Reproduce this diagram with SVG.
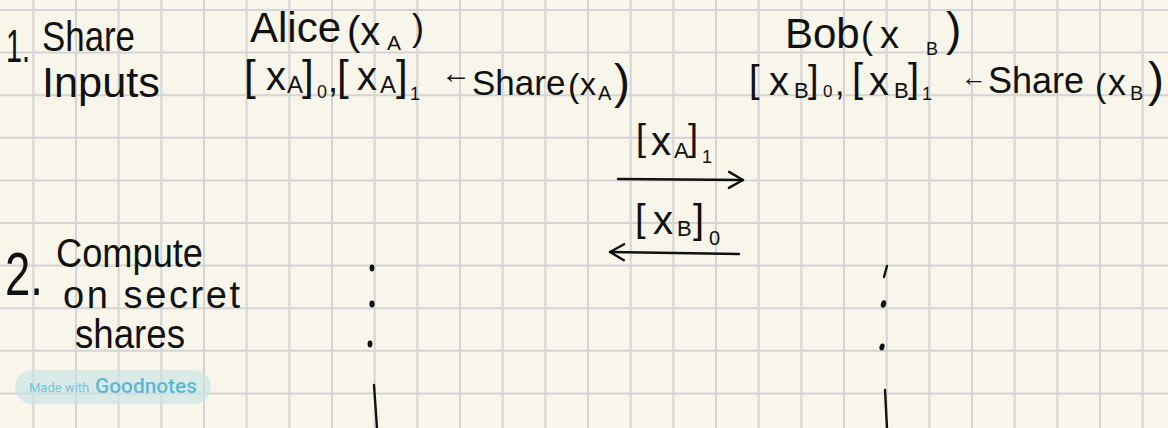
<svg xmlns="http://www.w3.org/2000/svg" width="1168" height="428" viewBox="0 0 1168 428">
  <defs>
    <style>
      .hw { font-family: "Liberation Sans", Arial, sans-serif; fill: #111; }
      .grid { stroke: #d4d4d6; stroke-width: 2; fill: none; }
      .ink { stroke: #111; stroke-width: 2.4; fill: none; stroke-linecap: round; stroke-linejoin: round; }
      .dot { fill: #111; }
      .badge-small { font-family: Roboto, "Liberation Sans", sans-serif; fill: #74c4de; font-size: 13px; }
      .badge-big { font-family: Roboto, "Liberation Sans", sans-serif; fill: #5cb9d6; font-size: 19.5px; font-weight: 500; }
    </style>
    <marker id="chev" markerUnits="userSpaceOnUse" markerWidth="20" markerHeight="24" refX="16" refY="12" orient="auto">
      <path d="M2,4 L16,12 L2,20" fill="none" stroke="#111" stroke-width="2.4" stroke-linecap="round" stroke-linejoin="round"/>
    </marker>
  </defs>

  <!-- paper -->
  <rect x="0" y="0" width="1168" height="428" fill="#f8f6ea"/>
  <g id="grid" class="grid">
    <path d="M33.3 0V428M76 0V428M118.6 0V428M161.3 0V428M204 0V428M246.6 0V428M289.3 0V428M332 0V428M374.7 0V428M417.3 0V428M460 0V428M502.7 0V428M545.3 0V428M588 0V428M630.7 0V428M673.3 0V428M716 0V428M758.7 0V428M801.3 0V428M844 0V428M886.7 0V428M929.3 0V428M972 0V428M1014.7 0V428M1057.3 0V428M1100 0V428M1142.7 0V428"/>
    <path d="M0 10H1168M0 52.6H1168M0 95.2H1168M0 137.8H1168M0 180.4H1168M0 223H1168M0 265.6H1168M0 308.2H1168M0 350.8H1168M0 393.4H1168"/>
  </g>

  <!-- step 1 label -->
  <g id="step1">
    <text class="hw" x="6" y="62" font-size="46" textLength="24" lengthAdjust="spacingAndGlyphs">1.</text>
    <text class="hw" x="42" y="51" font-size="42" textLength="93" lengthAdjust="spacingAndGlyphs">Share</text>
    <text class="hw" x="42" y="97" font-size="42" textLength="118" lengthAdjust="spacingAndGlyphs">Inputs</text>
  </g>

  <!-- step 2 label -->
  <g id="step2">
    <text class="hw" x="5" y="295" font-size="62" textLength="38" lengthAdjust="spacingAndGlyphs">2.</text>
    <text class="hw" x="56" y="267" font-size="40" textLength="147" lengthAdjust="spacingAndGlyphs">Compute</text>
    <text class="hw" x="63" y="308" font-size="38" textLength="177">on secret</text>
    <text class="hw" x="75" y="348" font-size="40" textLength="110" lengthAdjust="spacingAndGlyphs">shares</text>
  </g>

  <!-- Alice -->
  <g id="alice">
    <text class="hw"><tspan x="250" y="42" font-size="42">Alice</tspan><tspan x="347" y="45" font-size="40">(x</tspan><tspan x="387" y="50" font-size="21">A</tspan><tspan x="412" y="40" font-size="36">)</tspan></text>
    <text class="hw"><tspan x="244" y="90" font-size="42">[</tspan><tspan x="266" y="90" font-size="40">x</tspan><tspan x="287" y="93" font-size="24">A</tspan><tspan x="302" y="90" font-size="42">]</tspan><tspan x="317" y="98" font-size="18">0</tspan><tspan x="328" y="92" font-size="36">,</tspan><tspan x="337" y="90" font-size="42">[</tspan><tspan x="357" y="90" font-size="40">x</tspan><tspan x="380" y="93" font-size="24">A</tspan><tspan x="396" y="90" font-size="42">]</tspan><tspan x="410" y="100" font-size="18">1</tspan><tspan x="441" y="83" font-size="30">←</tspan><tspan x="472" y="95" font-size="35">Share</tspan><tspan x="568" y="97" font-size="34">(</tspan><tspan x="580" y="95" font-size="32">x</tspan><tspan x="598" y="100" font-size="20">A</tspan><tspan x="614" y="98" font-size="48">)</tspan></text>
  </g>

  <!-- Bob -->
  <g id="bob">
    <text class="hw"><tspan x="785" y="48" font-size="42">Bob</tspan><tspan x="861" y="48" font-size="36">(</tspan><tspan x="880" y="48" font-size="38">x</tspan><tspan x="926" y="55" font-size="18">B</tspan><tspan x="946" y="45" font-size="46">)</tspan></text>
    <text class="hw"><tspan x="749" y="92" font-size="38">[</tspan><tspan x="769" y="95" font-size="40">x</tspan><tspan x="794" y="98" font-size="22">B</tspan><tspan x="808" y="92" font-size="38">]</tspan><tspan x="823" y="97" font-size="17">0</tspan><tspan x="835" y="95" font-size="34">,</tspan><tspan x="852" y="92" font-size="40">[</tspan><tspan x="869" y="95" font-size="40">x</tspan><tspan x="894" y="98" font-size="22">B</tspan><tspan x="908" y="92" font-size="40">]</tspan><tspan x="922" y="100" font-size="18">1</tspan><tspan x="961" y="86" font-size="26">←</tspan><tspan x="988" y="93" font-size="36">Share</tspan><tspan x="1095" y="97" font-size="34">(</tspan><tspan x="1108" y="95" font-size="36">x</tspan><tspan x="1130" y="100" font-size="20">B</tspan><tspan x="1148" y="96" font-size="48">)</tspan></text>
  </g>

  <!-- message labels -->
  <g id="msg-xa1">
    <text class="hw"><tspan x="636" y="150" font-size="36">[</tspan><tspan x="651" y="155" font-size="40">x</tspan><tspan x="674" y="158" font-size="22">A</tspan><tspan x="688" y="150" font-size="36">]</tspan><tspan x="702" y="163" font-size="18">1</tspan></text>
  </g>
  <g id="msg-xb0">
    <text class="hw"><tspan x="635" y="231" font-size="38">[</tspan><tspan x="653" y="234" font-size="40">x</tspan><tspan x="677" y="236" font-size="22">B</tspan><tspan x="693" y="233" font-size="40">]</tspan><tspan x="709" y="245" font-size="20">0</tspan></text>
  </g>

  <!-- connectors -->
  <g id="connectors">
    <path class="ink" d="M618 179 L743 180" marker-end="url(#chev)"/>
    <path class="ink" d="M739 254 L610 252" marker-end="url(#chev)"/>
    <!-- Alice lifeline -->
    <ellipse class="dot" cx="372" cy="268" rx="2.4" ry="3.4"/>
    <ellipse class="dot" cx="372" cy="304" rx="2.6" ry="3.4"/>
    <ellipse class="dot" cx="370" cy="344" rx="2.4" ry="3.4"/>
    <path class="ink" d="M374 385 L377 428"/>
    <!-- Bob lifeline -->
    <path class="ink" stroke-width="3.4" d="M884 277 L887 266"/>
    <ellipse class="dot" cx="883.5" cy="304" rx="2.6" ry="3.8" transform="rotate(15 883.5 304)"/>
    <ellipse class="dot" cx="882" cy="347" rx="2.5" ry="3.6" transform="rotate(15 882 347)"/>
    <path class="ink" d="M885 390 L887 428"/>
  </g>

  <!-- watermark badge -->
  <g id="badge">
    <rect x="15" y="370" width="196" height="34" rx="17" fill="#c6e5e4" fill-opacity="0.6"/>
    <text class="badge-small" x="29" y="392">Made with</text>
    <text class="badge-big" x="95" y="393" textLength="102" lengthAdjust="spacingAndGlyphs">Goodnotes</text>
  </g>
</svg>
